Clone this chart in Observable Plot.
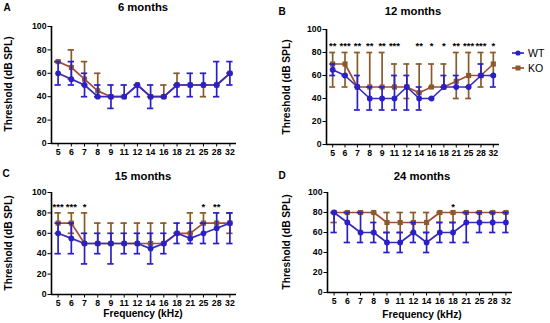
<!DOCTYPE html>
<html>
<head>
<meta charset="utf-8">
<script src="https://cdn.jsdelivr.net/npm/d3@7"></script>
<script src="https://cdn.jsdelivr.net/npm/@observablehq/plot@0.6"></script>
<style>
  body { margin: 0; background: #fff; }
  #wrap { position: relative; width: 550px; height: 323px; font-family: "Liberation Sans", Arial, sans-serif; }
  .pnl { position: absolute; }
  .lbl { position: absolute; font-weight: bold; white-space: nowrap; transform: translate(-50%, -50%); line-height: 1; color: #000; }
  .ylbl { position: absolute; font-weight: bold; white-space: nowrap; transform: translate(-50%, -50%) rotate(-90deg); line-height: 1; color: #000; font-size: 10.2px; }
  .leg { position: absolute; font-size: 10.5px; line-height: 1; transform: translateY(-50%); white-space: nowrap; }
</style>
</head>
<body>
<div id="wrap"></div>
<script>
const freqs = ["5","6","7","8","9","11","12","14","16","18","21","25","28","32"];
const series = ["WT", "KO"];
const titles = ["6 months", "12 months", "15 months", "24 months"];
const letters = ["A", "B", "C", "D"];
const yTicks = [0, 20, 40, 60, 80, 100];
const yTitle = "Threshold (dB SPL)";
const xTitle = "Frequency (kHz)";

// 6 months
const wtA    = [60,55,50,40,40,40,50,40,40,50,50,50,50,60];
const wtA_lo = [50,50,40,40,30,40,40,30,40,40,40,50,40,50];
const wtA_hi = [70,70,60,50,50,50,50,50,40,50,60,60,70,70];
const koA    = [70,65,55,45,40,40,50,40,40,50,50,50,50,60];
const koA_lo = [70,55,50,40,40,40,50,40,40,50,50,40,50,60];
const koA_hi = [70,80,70,60,40,40,50,40,50,60,50,50,50,60];
const starsA = ["","","","","","","","","","","","","",""];

// 12 months
const wtB    = [65,60,50,40,40,40,50,40,40,50,50,50,60,60];
const wtB_lo = [60,60,30,30,30,30,30,30,40,50,50,50,60,50];
const wtB_hi = [70,60,60,50,50,60,60,50,40,60,60,50,70,60];
const koB    = [70,70,50,50,50,50,50,45,50,50,55,60,60,70];
const koB_lo = [50,50,50,50,50,50,40,45,50,50,40,40,50,60];
const koB_hi = [80,80,80,80,80,70,70,70,70,70,80,80,80,80];
const starsB = ["**","***","**","**","**","***","","**","*","*","**","***","***","*"];

// 15 months
const wtC    = [60,55,50,50,50,50,50,45,50,60,55,60,65,70];
const wtC_lo = [40,40,30,40,30,40,40,30,40,50,50,50,50,50];
const wtC_hi = [70,70,60,60,60,60,60,60,60,70,70,70,80,80];
const koC    = [70,70,50,50,50,50,50,50,50,60,60,70,70,70];
const koC_lo = [60,60,50,50,50,50,50,50,50,60,60,70,70,60];
const koC_hi = [80,80,80,70,70,70,70,70,70,60,80,80,70,80];
const starsC = ["***","***","*","","","","","","","","","*","**",""];

// 24 months
const wtD    = [80,70,60,60,50,50,60,50,60,60,70,70,70,70];
const wtD_lo = [60,50,50,50,40,40,50,40,50,50,50,60,60,60];
const wtD_hi = [80,80,80,70,60,60,70,60,70,70,80,80,80,80];
const koD    = [80,80,80,80,70,70,70,70,80,80,80,80,80,80];
const koD_lo = [70,80,80,60,60,60,60,60,70,70,80,80,80,80];
const koD_hi = [80,80,80,80,80,80,80,80,80,80,80,80,80,80];
const starsD = ["","","","","","","","","","*","","","",""];

const WT_C = "#2a20c6", WT_LINE = "#3a2cb8";
const KO_C = "#8a5a2a", KO_LINE = "#a84a38";

function rows(m, lo, hi) {
  return freqs.map((f, i) => ({i, f, m: m[i], lo: lo[i], hi: hi[i]}));
}

function seriesMarks(data, color, lineColor, symbol, r) {
  return [
    Plot.ruleX(data, {x: "i", y1: "lo", y2: "hi", stroke: color, strokeWidth: 1.7}),
    Plot.ruleY(data, {y: "hi", x1: d => d.i - 0.24, x2: d => d.i + 0.24, stroke: color, strokeWidth: 1.7}),
    Plot.ruleY(data, {y: "lo", x1: d => d.i - 0.24, x2: d => d.i + 0.24, stroke: color, strokeWidth: 1.7}),
    Plot.line(data, {x: "i", y: "m", stroke: lineColor, strokeWidth: 1.7}),
    Plot.dot(data, {x: "i", y: "m", symbol, fill: color, stroke: "none", r})
  ];
}

function panel(p) {
  const wt = rows(p.wt, p.wtLo, p.wtHi);
  const ko = rows(p.ko, p.koLo, p.koHi);
  const st = freqs.map((f, i) => ({i, s: p.stars[i]})).filter(d => d.s);
  return Plot.plot({
    width: p.w, height: p.h,
    marginLeft: p.ml, marginRight: p.mr, marginTop: p.mt, marginBottom: p.mb,
    style: {fontFamily: "'Liberation Sans', Arial, sans-serif", fontSize: "8.7px", fontWeight: "bold", color: "#000", background: "transparent", overflow: "visible"},
    x: {domain: [-0.5, 13.5], ticks: d3.range(14), tickFormat: i => freqs[i], tickSize: 3.5, tickPadding: 2, label: null},
    y: {domain: [0, 100], ticks: yTicks, tickSize: 3.5, tickPadding: 1.5, label: null},
    marks: [
      ...seriesMarks(ko, KO_C, KO_LINE, "square", 2.9),
      ...seriesMarks(wt, WT_C, WT_LINE, "circle", 2.9),
      Plot.ruleX([-0.5], {stroke: "#000", strokeWidth: 1.6}),
      Plot.ruleY([0], {stroke: "#000", strokeWidth: 1.6}),
      Plot.text(st, {x: "i", y: () => 86, text: "s", fontSize: 9.5, fontWeight: "bold", fill: "#000"})
    ]
  });
}

const wrap = document.getElementById("wrap");
const cfgs = [
  {left: 0,   top: 0,   w: 275, h: 160, ml: 51, mr: 39, mt: 26, mb: 17, wt: wtA, wtLo: wtA_lo, wtHi: wtA_hi, ko: koA, koLo: koA_lo, koHi: koA_hi, stars: starsA, xlabel: false},
  {left: 275, top: 0,   w: 275, h: 160, ml: 51, mr: 51, mt: 29, mb: 16, wt: wtB, wtLo: wtB_lo, wtHi: wtB_hi, ko: koB, koLo: koB_lo, koHi: koB_hi, stars: starsB, xlabel: false},
  {left: 0,   top: 160, w: 275, h: 163, ml: 51, mr: 39, mt: 32, mb: 29, wt: wtC, wtLo: wtC_lo, wtHi: wtC_hi, ko: koC, koLo: koC_lo, koHi: koC_hi, stars: starsC, xlabel: true},
  {left: 275, top: 160, w: 275, h: 163, ml: 52, mr: 38, mt: 32, mb: 31, wt: wtD, wtLo: wtD_lo, wtHi: wtD_hi, ko: koD, koLo: koD_lo, koHi: koD_hi, stars: starsD, xlabel: true}
];
const titlePos = [[143, 8], [413, 12], [143, 177], [422, 177]];
const letterPos = [[7, 8], [282, 12], [6, 174], [282, 176]];
const yLabPos = [[9, 84], [287, 87], [9, 243], [287, 242]];
const xLabPos = [null, null, [143, 314], [422, 315]];

function addText(cls, txt, x, y, size) {
  const t = document.createElement("div");
  t.className = cls;
  if (size) t.style.fontSize = size + "px";
  t.style.left = x + "px";
  t.style.top = y + "px";
  t.textContent = txt;
  wrap.appendChild(t);
}

cfgs.forEach((c, k) => {
  const d = document.createElement("div");
  d.className = "pnl";
  d.style.left = c.left + "px";
  d.style.top = c.top + "px";
  d.appendChild(panel(c));
  wrap.appendChild(d);
  addText("lbl", titles[k], titlePos[k][0], titlePos[k][1], 11.3);
  addText("lbl", letters[k], letterPos[k][0], letterPos[k][1], 10);
  addText("ylbl", yTitle, yLabPos[k][0], yLabPos[k][1]);
  if (xLabPos[k]) addText("lbl", xTitle, xLabPos[k][0], xLabPos[k][1], 10.2);
});

// legend
const legCols = [[WT_C, WT_LINE, "circle"], [KO_C, KO_LINE, "square"]];
series.forEach((s, k) => {
  const y = 53 + k * 15;
  const sw = document.createElementNS("http://www.w3.org/2000/svg", "svg");
  sw.setAttribute("width", 14); sw.setAttribute("height", 8);
  sw.style.position = "absolute"; sw.style.left = "511px"; sw.style.top = (y - 4) + "px";
  const ln = document.createElementNS("http://www.w3.org/2000/svg", "line");
  ln.setAttribute("x1", 1); ln.setAttribute("x2", 13); ln.setAttribute("y1", 4); ln.setAttribute("y2", 4);
  ln.setAttribute("stroke", legCols[k][1]); ln.setAttribute("stroke-width", 1.7);
  sw.appendChild(ln);
  let mk;
  if (legCols[k][2] === "circle") {
    mk = document.createElementNS("http://www.w3.org/2000/svg", "circle");
    mk.setAttribute("cx", 7); mk.setAttribute("cy", 4); mk.setAttribute("r", 2.6);
  } else {
    mk = document.createElementNS("http://www.w3.org/2000/svg", "rect");
    mk.setAttribute("x", 4.5); mk.setAttribute("y", 1.5); mk.setAttribute("width", 5); mk.setAttribute("height", 5);
  }
  mk.setAttribute("fill", legCols[k][0]);
  sw.appendChild(mk);
  wrap.appendChild(sw);
  const tx = document.createElement("div");
  tx.className = "leg";
  tx.style.left = "528px";
  tx.style.top = y + "px";
  tx.textContent = s;
  wrap.appendChild(tx);
});
</script>
</body>
</html>
